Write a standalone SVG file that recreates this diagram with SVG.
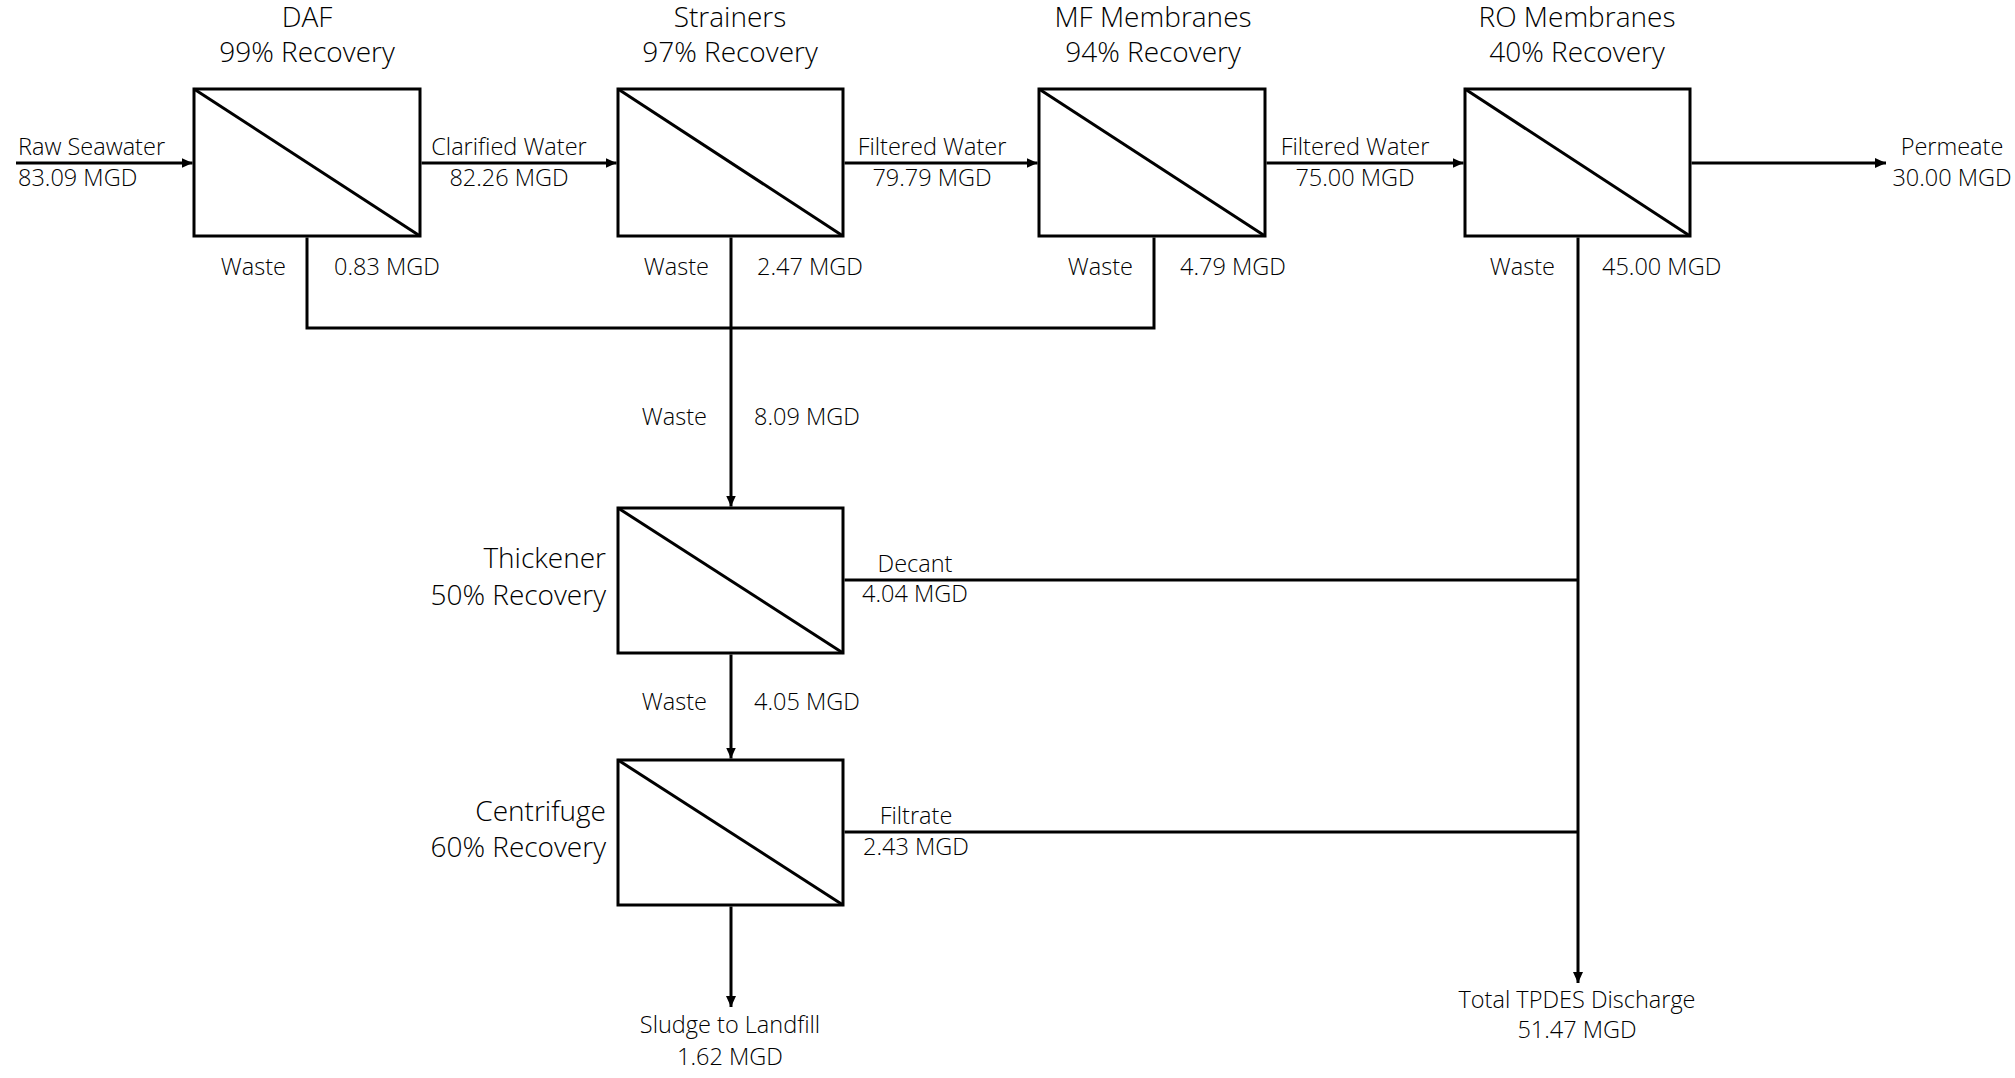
<svg xmlns="http://www.w3.org/2000/svg" width="2015" height="1078" viewBox="0 0 2015 1078">
<style>
  .box{fill:#fff;stroke:#000;stroke-width:3}
  .diag{stroke:#000;stroke-width:3}
  .ln{fill:none;stroke:#000;stroke-width:3}
  text{font-family:"Open Sans","Liberation Sans",sans-serif;font-weight:300;fill:#000}
  .t{font-size:28px}
  .l{font-size:23.5px}
  .m{text-anchor:middle}
  .e{text-anchor:end}
</style>
<defs>
  <marker id="arr" markerUnits="userSpaceOnUse" markerWidth="11" markerHeight="10" refX="11" refY="5" orient="auto">
    <path d="M0,0 L11,5 L0,10 Z" fill="#000"/>
  </marker>
</defs>
<rect width="2015" height="1078" fill="#fff"/>
<g id="connectors">
  <path class="ln" d="M16,163 H192.5" marker-end="url(#arr)"/>
  <path class="ln" d="M421.5,163 H616.5" marker-end="url(#arr)"/>
  <path class="ln" d="M844.5,163 H1037.5" marker-end="url(#arr)"/>
  <path class="ln" d="M1266.5,163 H1463.5" marker-end="url(#arr)"/>
  <path class="ln" d="M1691.5,163 H1886" marker-end="url(#arr)"/>
  <path class="ln" d="M307,237.5 V328 H1154 V237.5"/>
  <path class="ln" d="M731,237.5 V506.5" marker-end="url(#arr)"/>
  <path class="ln" d="M1578,237.5 V983" marker-end="url(#arr)"/>
  <path class="ln" d="M844.5,580 H1578"/>
  <path class="ln" d="M844.5,832 H1578"/>
  <path class="ln" d="M731,654.5 V758.5" marker-end="url(#arr)"/>
  <path class="ln" d="M731,906.5 V1007" marker-end="url(#arr)"/>
</g>
<g id="labels">
  <text class="l" x="18" y="155">Raw Seawater</text>
  <text class="l" x="18" y="186">83.09 MGD</text>
  <text class="l m" x="509" y="155">Clarified Water</text>
  <text class="l m" x="509" y="186">82.26 MGD</text>
  <text class="l m" x="932" y="155">Filtered Water</text>
  <text class="l m" x="932" y="186">79.79 MGD</text>
  <text class="l m" x="1355" y="155">Filtered Water</text>
  <text class="l m" x="1355" y="186">75.00 MGD</text>
  <text class="l m" x="1952" y="155">Permeate</text>
  <text class="l m" x="1952" y="186">30.00 MGD</text>
  <text class="l e" x="286" y="275">Waste</text>
  <text class="l" x="334" y="275">0.83 MGD</text>
  <text class="l e" x="709" y="275">Waste</text>
  <text class="l" x="757" y="275">2.47 MGD</text>
  <text class="l e" x="1133" y="275">Waste</text>
  <text class="l" x="1180" y="275">4.79 MGD</text>
  <text class="l e" x="1555" y="275">Waste</text>
  <text class="l" x="1602" y="275">45.00 MGD</text>
  <text class="l e" x="707" y="425">Waste</text>
  <text class="l" x="754" y="425">8.09 MGD</text>
  <text class="l m" x="915" y="572">Decant</text>
  <text class="l m" x="915" y="602">4.04 MGD</text>
  <text class="l e" x="707" y="710">Waste</text>
  <text class="l" x="754" y="710">4.05 MGD</text>
  <text class="l m" x="916" y="824">Filtrate</text>
  <text class="l m" x="916" y="855">2.43 MGD</text>
  <text class="l m" x="730" y="1033">Sludge to Landfill</text>
  <text class="l m" x="730" y="1065">1.62 MGD</text>
  <text class="l m" x="1577" y="1008">Total TPDES Discharge</text>
  <text class="l m" x="1577" y="1038">51.47 MGD</text>
</g>
<g id="daf">
  <rect class="box" x="194" y="89" width="226" height="147"/>
  <line class="diag" x1="194" y1="89" x2="420" y2="236"/>
  <text class="t m" x="307" y="27">DAF</text>
  <text class="t m" x="307" y="62">99% Recovery</text>
</g>
<g id="strainers">
  <rect class="box" x="618" y="89" width="225" height="147"/>
  <line class="diag" x1="618" y1="89" x2="843" y2="236"/>
  <text class="t m" x="730" y="27">Strainers</text>
  <text class="t m" x="730" y="62">97% Recovery</text>
</g>
<g id="mf">
  <rect class="box" x="1039" y="89" width="226" height="147"/>
  <line class="diag" x1="1039" y1="89" x2="1265" y2="236"/>
  <text class="t m" x="1153" y="27">MF Membranes</text>
  <text class="t m" x="1153" y="62">94% Recovery</text>
</g>
<g id="ro">
  <rect class="box" x="1465" y="89" width="225" height="147"/>
  <line class="diag" x1="1465" y1="89" x2="1690" y2="236"/>
  <text class="t m" x="1577" y="27">RO Membranes</text>
  <text class="t m" x="1577" y="62">40% Recovery</text>
</g>
<g id="thickener">
  <rect class="box" x="618" y="508" width="225" height="145"/>
  <line class="diag" x1="618" y1="508" x2="843" y2="653"/>
  <text class="t e" x="606" y="568">Thickener</text>
  <text class="t e" x="606" y="605">50% Recovery</text>
</g>
<g id="centrifuge">
  <rect class="box" x="618" y="760" width="225" height="145"/>
  <line class="diag" x1="618" y1="760" x2="843" y2="905"/>
  <text class="t e" x="606" y="821">Centrifuge</text>
  <text class="t e" x="606" y="857">60% Recovery</text>
</g>
</svg>
